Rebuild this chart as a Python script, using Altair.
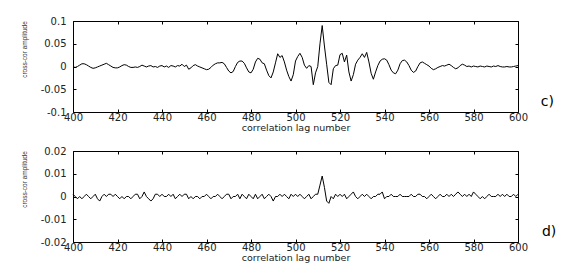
import altair as alt
import pandas as pd

lags = list(range(400, 601))

# panel c) cross-correlation amplitude, lag 400..600
top_vals = [
    -0.001, -0.002, 0.000, 0.003, 0.006, 0.006, 0.004, 0.001, -0.002, -0.004,
    -0.003, -0.001, 0.001, 0.003, 0.005, 0.007, 0.004, 0.001, -0.002, -0.003,
    -0.003, -0.001, 0.002, 0.004, 0.003, 0.000, -0.002, -0.002, -0.001, -0.002,
    0.000, 0.003, 0.001, -0.001, 0.001, 0.002, -0.001, 0.000, -0.002, 0.001,
    0.002, -0.001, 0.001, -0.002, 0.002, 0.001, -0.001, 0.002, 0.001, 0.005,
    0.000, 0.003, -0.006, -0.003, 0.002, 0.004, 0.001, -0.001, -0.003, -0.005,
    -0.007, -0.006, -0.002, 0.003, 0.006, 0.008, 0.008, 0.009, 0.006, -0.002,
    -0.010, -0.014, -0.011, 0.000, 0.009, 0.012, 0.012, 0.007, -0.003, -0.012,
    -0.014, -0.006, 0.010, 0.018, 0.016, 0.008, 0.006, -0.008, -0.020, -0.025,
    -0.012, 0.008, 0.028, 0.020, 0.024, 0.010, -0.008, -0.022, -0.032, -0.018,
    0.012, 0.022, 0.029, 0.020, 0.003, -0.004, 0.002, 0.000, -0.040, -0.014,
    0.000, 0.050, 0.090, 0.045, 0.005, -0.035, -0.040, -0.005, 0.002, 0.003,
    0.026, 0.029, 0.010, 0.025, -0.012, -0.032, -0.018, 0.005, 0.014, 0.020,
    0.028, 0.020, 0.031, 0.010, -0.015, -0.028, -0.012, 0.002, 0.012, 0.016,
    0.017, 0.014, 0.004, -0.008, -0.014, -0.016, -0.008, 0.006, 0.013, 0.014,
    0.010, 0.002, -0.008, -0.013, -0.010, 0.000, 0.008, 0.010, 0.007, 0.004,
    0.001, -0.004, -0.007, -0.005, -0.002, 0.000, 0.002, 0.001, 0.003, 0.005,
    0.002, -0.002, -0.005, -0.003, 0.002, 0.005, 0.003, 0.000, 0.001, -0.001,
    0.001, 0.000, -0.001, 0.001, 0.000, -0.001, 0.001, 0.000, -0.001, 0.001,
    0.000, 0.002, 0.000, -0.001, -0.001, 0.000, -0.001, -0.001, 0.000, 0.001,
    0.002,
]

# panel d) cross-correlation amplitude, lag 400..600
bottom_vals = [
    0.001, 0.000, -0.001, 0.000, -0.001, 0.000, 0.001, 0.000, -0.001, 0.000,
    0.001, -0.001, -0.002, 0.000, 0.001, 0.000, 0.001, 0.001, 0.000, 0.001,
    0.000, -0.001, 0.000, -0.001, 0.000, 0.000, -0.001, 0.000, 0.001, 0.001,
    -0.001, 0.000, 0.002, 0.000, -0.001, -0.002, -0.001, 0.001, 0.001, 0.000,
    0.001, 0.000, 0.000, 0.001, 0.000, 0.001, -0.001, 0.000, 0.001, 0.000,
    0.001, 0.001, -0.001, 0.000, -0.001, 0.000, 0.000, -0.001, 0.000, 0.000,
    0.001, 0.000, -0.001, 0.000, 0.000, 0.001, 0.000, -0.001, 0.000, 0.001,
    0.001, -0.001, 0.000, 0.000, 0.001, -0.001, 0.001, 0.000, -0.001, 0.001,
    0.000, -0.001, 0.001, -0.001, 0.000, 0.001, -0.001, 0.000, 0.001, 0.000,
    -0.002, 0.000, 0.000, 0.001, 0.000, 0.001, 0.000, -0.001, 0.001, 0.000,
    0.001, 0.000, 0.001, 0.000, -0.001, 0.000, 0.001, -0.001, 0.000, 0.001,
    0.001, 0.005, 0.009, 0.004, -0.002, -0.003, 0.000, -0.001, 0.001, 0.000,
    0.001, 0.000, 0.001, -0.001, 0.000, 0.001, 0.002, 0.000, -0.001, 0.000,
    0.001, 0.000, 0.001, 0.000, -0.001, 0.000, 0.000, 0.001, 0.001, 0.002,
    -0.001, 0.000, 0.000, 0.001, 0.000, 0.000, 0.000, 0.001, 0.000, 0.000,
    0.000, 0.000, 0.001, 0.000, 0.000, 0.001, 0.001, 0.000, 0.000, -0.001,
    0.000, 0.001, 0.000, -0.001, 0.000, 0.001, 0.000, 0.000, 0.001, 0.000,
    0.001, 0.000, 0.001, 0.002, 0.001, 0.000, 0.001, 0.000, 0.001, 0.000,
    0.002, 0.001, 0.000, -0.001, 0.000, -0.001, 0.000, 0.001, 0.000, 0.000,
    0.000, 0.001, 0.000, 0.001, 0.000, 0.001, 0.000, 0.000, 0.001, 0.000,
    0.001,
]

x_ticks = [400, 420, 440, 460, 480, 500, 520, 540, 560, 580, 600]
top_y_ticks = [-0.1, -0.05, 0, 0.05, 0.1]
bottom_y_ticks = [-0.02, -0.01, 0, 0.01, 0.02]
panel_tags = ["c)", "d)"]

LABEL_EXPR = "datum.value == 0 ? '0' : (datum.value < 0 ? '-' : '') + format(abs(datum.value), '~g')"


def panel(vals, yticks, tag):
    df = pd.DataFrame({"lag": lags, "amp": vals})
    base = alt.Chart(df)
    xscale = alt.Scale(domain=[x_ticks[0], x_ticks[-1]], nice=False, zero=False)
    yscale = alt.Scale(domain=[yticks[0], yticks[-1]], nice=False, zero=False)
    line = base.mark_line(color="black", strokeWidth=1).encode(
        x=alt.X("lag:Q", scale=xscale, axis=alt.Axis(
            orient="bottom", values=x_ticks, offset=-3, tickSize=3,
            tickColor="black", domain=False, grid=False, labelPadding=0.5,
            labelFlush=False, labelOverlap=False,
            labelFont="DejaVu Sans", labelFontSize=10, labelColor="#222",
            title="correlation lag number", titleFont="DejaVu Sans",
            titleFontSize=9.5, titleFontWeight="normal", titleColor="#222",
            titlePadding=0)),
        y=alt.Y("amp:Q", scale=yscale, axis=alt.Axis(
            orient="left", values=yticks, offset=-3, tickSize=3,
            tickColor="black", domain=False, grid=False, labelPadding=7,
            labelFlush=False, labelOverlap=False,
            labelFont="DejaVu Sans", labelFontSize=10, labelColor="#222",
            labelExpr=LABEL_EXPR,
            title="cross-cor amplitude", titleFont="Liberation Sans",
            titleFontSize=6.5, titleFontWeight="normal", titleColor="#333",
            titleAngle=270, titleX=-52, titleY=28, titleAlign="center",
            titleBaseline="middle")),
    )
    frame = base.mark_line(opacity=0).encode(
        x=alt.X("lag:Q", scale=xscale, axis=alt.Axis(
            orient="top", values=x_ticks, labels=False, offset=-3, tickSize=3,
            tickColor="black", domain=False, grid=False, title=None)),
        y=alt.Y("amp:Q", scale=yscale, axis=alt.Axis(
            orient="right", values=yticks, labels=False, offset=-3, tickSize=3,
            tickColor="black", domain=False, grid=False, title=None)),
    )
    return alt.layer(line, frame).resolve_axis(
        x="independent", y="independent"
    ).properties(
        width=445, height=91,
        title=alt.TitleParams(tag, orient="right", angle=0, anchor="end",
                              align="left", baseline="middle", offset=0,
                              dy=-30, font="DejaVu Sans", fontSize=14,
                              fontWeight="normal", color="black"),
    )


chart = alt.vconcat(
    panel(top_vals, top_y_ticks, panel_tags[0]),
    panel(bottom_vals, bottom_y_ticks, panel_tags[1]),
    spacing=12,
).properties(
    padding={"left": 12, "top": 7, "right": 0, "bottom": 0},
    background="white",
).configure_view(stroke="black", strokeWidth=1)

chart.save("out.html", embed_options={"renderer": "svg", "actions": False})
